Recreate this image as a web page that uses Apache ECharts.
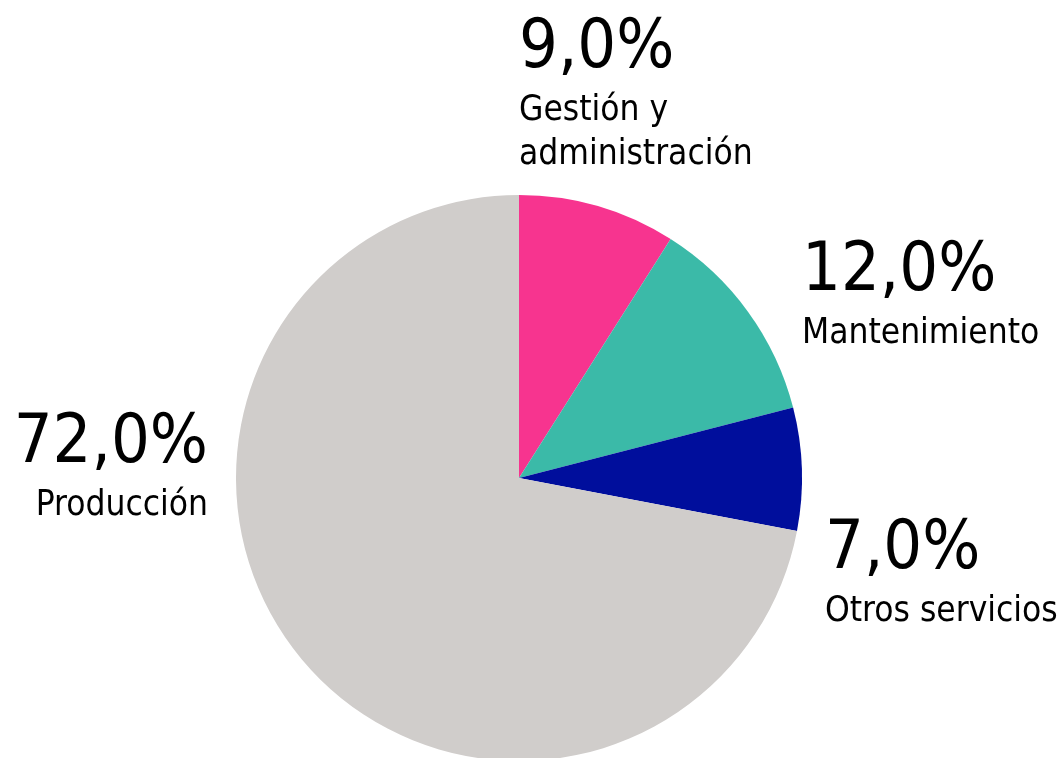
<!DOCTYPE html>
<html>
<head>
<meta charset="utf-8">
<script src="https://cdn.jsdelivr.net/npm/echarts@6/dist/echarts.min.js"></script>
<style>
  html, body { margin: 0; padding: 0; background: #fff; }
  #chart { width: 1063px; height: 758px; }
</style>
</head>
<body>
<div id="chart"></div>
<script>
// datos del gráfico
var categorias = ['Gestión y\nadministración', 'Mantenimiento', 'Otros servicios', 'Producción'];
var valores = [9.0, 12.0, 7.0, 72.0];
var colores = ['#f7348f', '#3bbaa8', '#000e9c', '#d0cdcb'];

// posición de cada etiqueta (x, y superior, alineación)
var posEtiquetas = [
    { x: 519, y: 9, align: 'left' },
    { x: 802, y: 232, align: 'left' },
    { x: 825, y: 510, align: 'left' },
    { x: 208, y: 404, align: 'right' }
];

var fuente = '"DejaVu Sans Condensed", "DejaVu Sans", sans-serif';

function fmt(v){
    return v.toFixed(1).replace('.', ',') + '%';
}

var datos = categorias.map(function(c, i){
    return { name: c, value: valores[i], itemStyle: { color: colores[i] } };
});

var chart = echarts.init(document.getElementById('chart'));
chart.setOption({
    animation: false,
    series: [{
        type: 'pie',
        center: [519, 478],
        radius: 283,
        startAngle: 90,
        clockwise: true,
        silent: true,
        data: datos,
        label: {
            show: true,
            position: 'outside',
            overflow: 'none',
            formatter: function(p){
                var lineas = p.name.split('\n').map(function(l){ return '{n|' + l + '}'; });
                return '{p|' + fmt(p.value) + '}\n' + lineas.join('\n');
            },
            rich: {
                p: { fontFamily: fuente, fontSize: 68, lineHeight: 80, color: '#000' },
                n: { fontFamily: fuente, fontSize: 35, lineHeight: 44, color: '#000' }
            }
        },
        labelLine: { show: false },
        labelLayout: function(params){
            var pos = posEtiquetas[params.dataIndex];
            return { x: pos.x, y: pos.y, align: pos.align, verticalAlign: 'top' };
        }
    }]
});
</script>
</body>
</html>
